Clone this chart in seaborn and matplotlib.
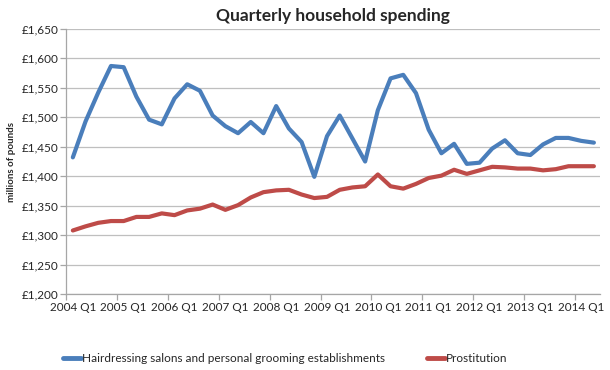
import numpy as np
import pandas as pd
import matplotlib
matplotlib.use("Agg")
import matplotlib.pyplot as plt
import seaborn as sns

# quarters 2004 Q1 .. 2014 Q2
quarters = [f"{y} Q{q}" for y in range(2004, 2015) for q in range(1, 5)][:42]

hairdressing = [1432, 1493, 1542, 1587, 1585, 1535, 1496, 1488, 1532, 1556,
                1545, 1503, 1485, 1473, 1492, 1473, 1519, 1481, 1458, 1399,
                1468, 1503, 1464, 1425, 1512, 1566, 1572, 1541, 1479, 1439,
                1455, 1421, 1423, 1447, 1461, 1439, 1436, 1454, 1465, 1465,
                1460, 1457]
prostitution = [1308, 1315, 1321, 1324, 1324, 1331, 1331, 1337, 1334, 1342,
                1345, 1352, 1343, 1351, 1364, 1373, 1376, 1377, 1369, 1363,
                1365, 1377, 1381, 1383, 1403, 1383, 1379, 1387, 1397, 1401,
                1411, 1404, 1410, 1416, 1415, 1413, 1413, 1410, 1412, 1417,
                1417, 1417]

series_names = ["Hairdressing salons and personal grooming establishments", "Prostitution"]
colors = ["#4A7EBB", "#BE4B48"]

df = pd.DataFrame({
    "idx": list(range(len(quarters))) * 2,
    "value": hairdressing + prostitution,
    "series": [series_names[0]] * len(quarters) + [series_names[1]] * len(quarters),
})

sns.set_style("white")
plt.rcParams["font.family"] = ["Lato", "DejaVu Sans"]

fig = plt.figure(figsize=(6.1, 3.7), dpi=100)
ax = fig.add_axes([0.109, 0.205, 0.875, 0.717])

sns.lineplot(data=df, x="idx", y="value", hue="series", palette=colors,
             linewidth=3.0, ax=ax, legend=False)

# axes look
ax.set_xlim(-0.5, 41.5)
ax.set_ylim(1200, 1650)
ax.set_yticks(np.arange(1200, 1651, 50))
ax.set_yticklabels([f"£{v:,}" for v in range(1200, 1651, 50)], fontsize=8.5)
ax.yaxis.grid(True, color="#BFBFBF", linewidth=0.9)
ax.set_axisbelow(True)

major = list(range(0, 42, 4))
ax.set_xticks(major)
ax.set_xticklabels([quarters[i] for i in major], fontsize=8.5)
ax.set_xticks([i - 0.5 for i in major], minor=True)
ax.tick_params(axis="x", which="major", length=0, pad=6)
ax.tick_params(axis="x", which="minor", length=4, color="#A6A6A6", direction="out", width=0.9)
ax.tick_params(axis="y", length=4, color="#A6A6A6", direction="out", width=0.9, pad=2)
ax.xaxis.set_tick_params(bottom=True, which="both")
ax.yaxis.set_tick_params(left=True)

for s in ["top", "right"]:
    ax.spines[s].set_visible(False)
for s in ["left", "bottom"]:
    ax.spines[s].set_color("#A6A6A6")
    ax.spines[s].set_linewidth(0.9)

ax.set_xlabel("")
ax.set_ylabel("millions of pounds", fontsize=7, fontweight="bold", labelpad=4)
ax.set_title("Quarterly household spending", fontsize=12.5, fontweight="bold", pad=6)

handles = [plt.Line2D([], [], color=c, linewidth=3.5) for c in colors]
fig.legend(handles, series_names, loc="center left", bbox_to_anchor=(0.103, 0.032),
           ncol=2, frameon=False, fontsize=8.5, handlelength=1.5, handletextpad=0.1,
           columnspacing=3.6, borderpad=0, borderaxespad=0)

fig.savefig("out.png", dpi=100)
